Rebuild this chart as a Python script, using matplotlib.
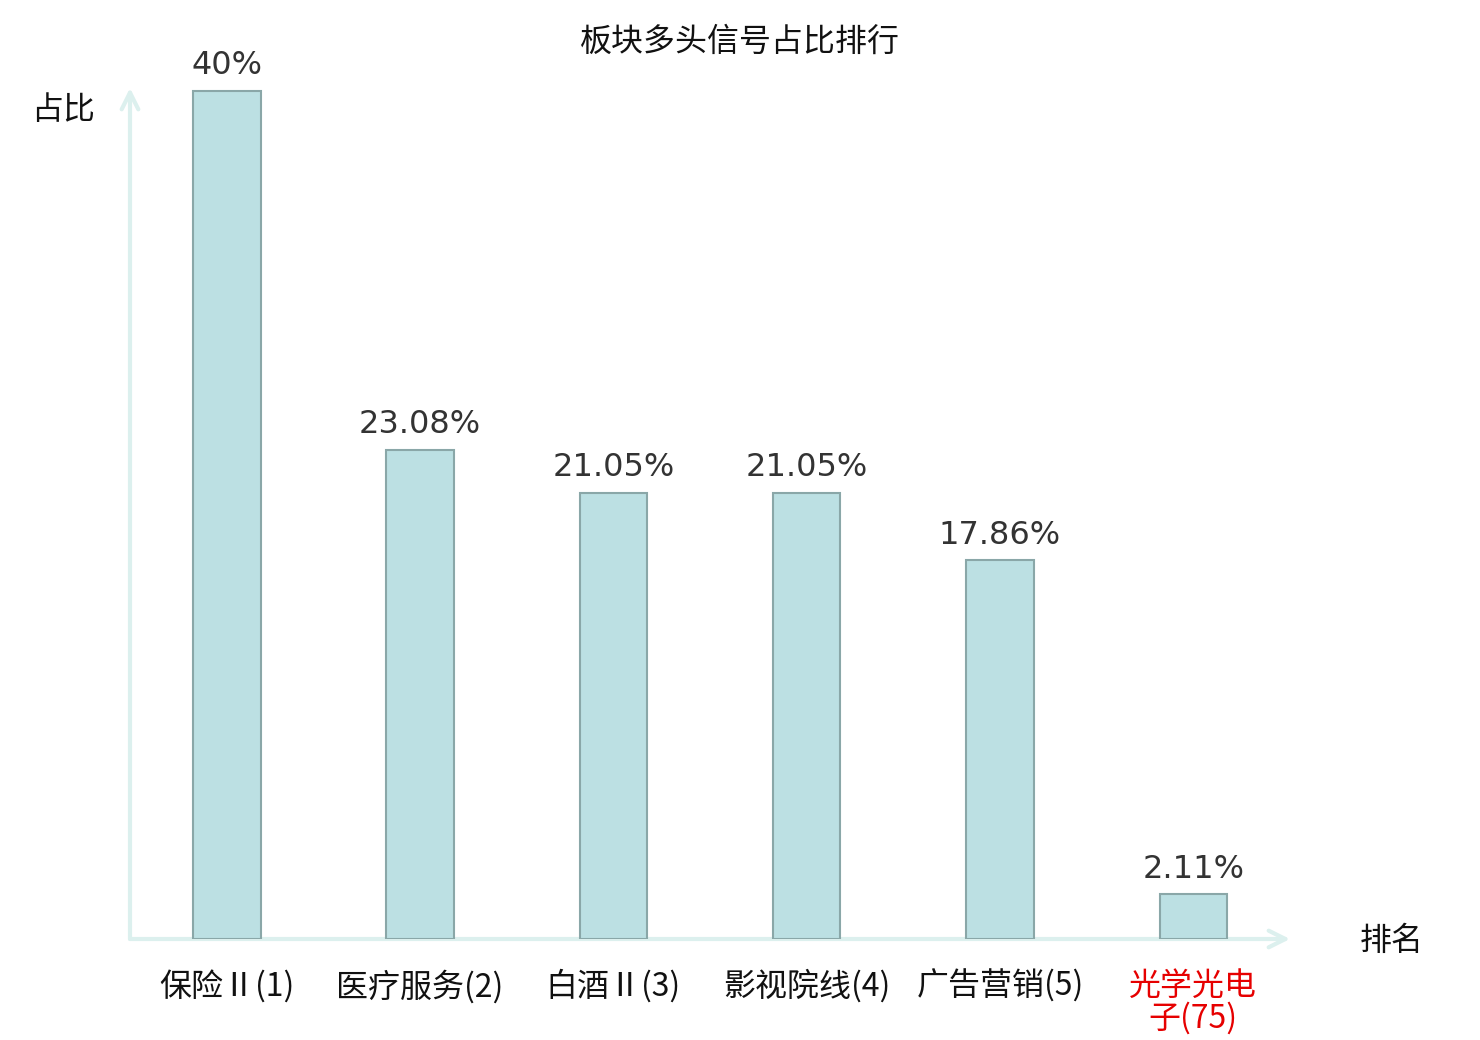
import matplotlib
matplotlib.use("Agg")
import matplotlib.pyplot as plt

plt.rcParams["font.family"] = ["Noto Sans CJK SC", "DejaVu Sans"]

categories = ["保险Ⅱ(1)", "医疗服务(2)", "白酒Ⅱ(3)", "影视院线(4)", "广告营销(5)", "光学光电\n子(75)"]
values = [40.0, 23.08, 21.05, 21.05, 17.86, 2.11]
value_labels = ["40%", "23.08%", "21.05%", "21.05%", "17.86%", "2.11%"]
label_colors = ["#111111"] * 5 + ["#e60000"]

BAR_FACE = "#bce0e3"
BAR_EDGE = "#8aa7a8"
AXIS_COLOR = "#dcf0ee"

W, H = 1480, 1040
fig = plt.figure(figsize=(W / 100, H / 100), dpi=100)
ax = fig.add_axes([130 / W, (H - 939) / H, 1160 / W, 851 / H])

x = list(range(len(categories)))
bars = ax.bar(x, values, width=0.35, color=BAR_FACE, edgecolor=BAR_EDGE, linewidth=1.5, zorder=3)

for b, lbl in zip(bars, value_labels):
    ax.annotate(lbl, (b.get_x() + b.get_width() / 2, b.get_height()),
                xytext=(0, 7), textcoords="offset points", ha="center", va="bottom",
                fontsize=23, color="#333333", family="DejaVu Sans")

ax.set_xlim(-0.5, 5.5)
ax.set_ylim(0, 851 / 21.2)
for s in ax.spines.values():
    s.set_visible(False)
ax.set_yticks([])
ax.set_xticks(x)
ax.tick_params(axis="x", length=0, pad=22)
ax.set_xticklabels(categories, fontsize=23, linespacing=1.0, va="top")
for t, c in zip(ax.get_xticklabels(), label_colors):
    t.set_color(c)

# axis arrows
arrow = dict(arrowstyle="->", color=AXIS_COLOR, linewidth=3, mutation_scale=30,
             shrinkA=0, shrinkB=0)
ax.annotate("", xy=(1.0, 0), xytext=(0, 0), xycoords="axes fraction", arrowprops=arrow, zorder=1)
ax.annotate("", xy=(0, 1.0), xytext=(0, 0), xycoords="axes fraction", arrowprops=arrow, zorder=1)

fig.text(63 / W, 1 - 110 / H, "占比", fontsize=23, ha="center", va="center", color="#111111")
fig.text(1392 / W, 1 - 941 / H, "排名", fontsize=23, ha="center", va="center", color="#111111")
fig.text(740 / W, 1 - 42 / H, "板块多头信号占比排行", fontsize=23, ha="center", va="center", color="#111111")

fig.savefig("out.png", dpi=100)
